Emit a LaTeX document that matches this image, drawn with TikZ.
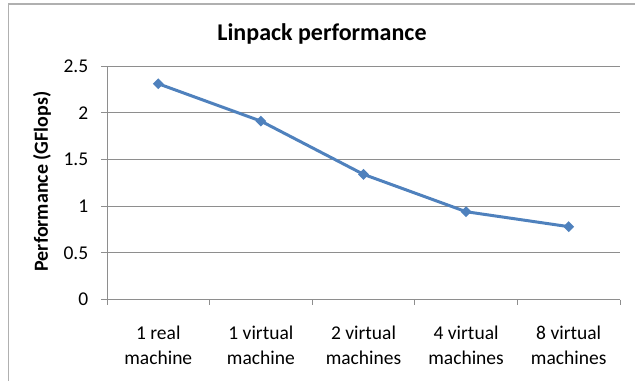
\documentclass[tikz,border=0pt]{standalone}
\usepackage{fontspec}
\setmainfont{Carlito}
\usetikzlibrary{shapes.geometric,backgrounds}
\definecolor{serieblue}{HTML}{4F81BD}
\definecolor{gridgray}{HTML}{8E8E8E}
\definecolor{framegray}{HTML}{B0B0B0}

\begin{document}
\begin{tikzpicture}[x=1pt, y=-1pt,
    gridline/.style={draw=gridgray, line width=1pt},
    ticklabel/.style={font=\fontsize{19.5}{23}\selectfont, anchor=east, inner sep=0pt},
    catlabel/.style={font=\fontsize{19.5}{25}\selectfont, align=center, anchor=north, inner sep=0pt},
    datapt/.style={diamond, fill=serieblue, inner sep=0pt, minimum size=11pt},
    series/.style={draw=serieblue, line width=3pt, line join=round}]
    \useasboundingbox (0,0) rectangle (635,381);

    % Chart frame, grid and axes
    \begin{scope}[on background layer]
        \draw[framegray, line width=1.5pt] (8.5,381) -- (8.5,4) -- (635,4);
        \foreach \v in {0,0.5,1,1.5,2,2.5}
            \draw[gridline] (101,{299.5-\v*93.4}) -- (620,{299.5-\v*93.4});
        \draw[gridline] (107,66) -- (107,305);
        \foreach \x in {209.6,312.2,414.8,517.4,620}
            \draw[gridline] (\x,299.5) -- (\x,305);
    \end{scope}

    % Titles
    \node[font=\fontsize{24}{28}\selectfont\bfseries] (title) at (322,34) {Linpack performance};
    \node[font=\fontsize{20}{24}\selectfont\bfseries, rotate=90] (ytitle) at (42,181.5) {Performance (GFlops)};

    % Value labels
    \node[ticklabel] (y0) at (88.5,299.5) {0};
    \node[ticklabel] (y05) at (88.5,252.8) {0.5};
    \node[ticklabel] (y1) at (88.5,206.1) {1};
    \node[ticklabel] (y15) at (88.5,159.4) {1.5};
    \node[ticklabel] (y2) at (88.5,112.7) {2};
    \node[ticklabel] (y25) at (88.5,66) {2.5};

    % Category labels
    \node[catlabel] (c1) at (158.3,326) {1 real\\machine};
    \node[catlabel] (c2) at (260.9,326) {1 virtual\\machine};
    \node[catlabel] (c3) at (363.5,326) {2 virtual\\machines};
    \node[catlabel] (c4) at (466.1,326) {4 virtual\\machines};
    \node[catlabel] (c5) at (568.7,326) {8 virtual\\machines};

    % Measured values
    \node[datapt] (p1) at (158.3,{299.5-2.31*93.4}) {};
    \node[datapt] (p2) at (260.9,{299.5-1.91*93.4}) {};
    \node[datapt] (p3) at (363.5,{299.5-1.34*93.4}) {};
    \node[datapt] (p4) at (466.1,{299.5-0.94*93.4}) {};
    \node[datapt] (p5) at (568.7,{299.5-0.78*93.4}) {};

    \begin{scope}[on background layer]
        \draw[series] (p1.center) -- (p2.center) -- (p3.center) -- (p4.center) -- (p5.center);
    \end{scope}
\end{tikzpicture}
\end{document}
